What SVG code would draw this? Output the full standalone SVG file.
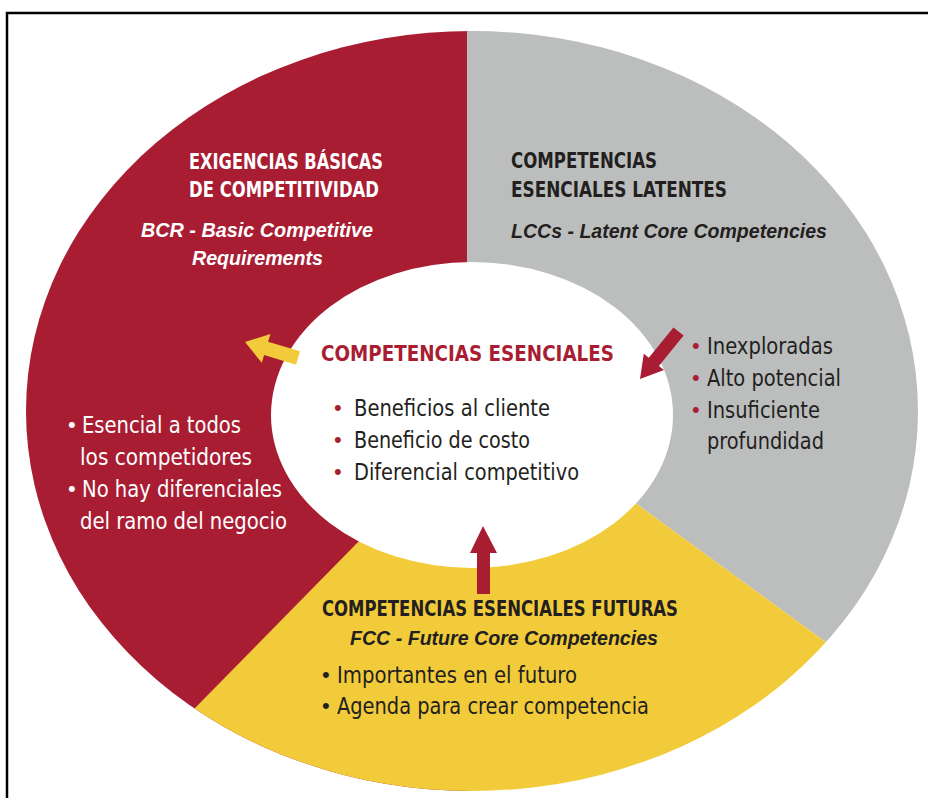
<svg xmlns="http://www.w3.org/2000/svg" width="928" height="798" viewBox="0 0 928 798">
<defs>
<clipPath id="outer"><ellipse cx="472" cy="411" rx="446" ry="380"/></clipPath>
<style>
.h{font-family:"DejaVu Sans Condensed",Roboto,"Liberation Sans",sans-serif;font-weight:bold;font-size:22px}
.i{font-family:"Liberation Sans",Arial,sans-serif;font-weight:bold;font-style:italic;font-size:20.5px}
.b{font-family:"DejaVu Sans Condensed",Roboto,"Liberation Sans",sans-serif;font-size:23px}
.w{fill:#ffffff}
.d{fill:#231f20}
.r{fill:#a91d33}
.dot{font-family:"Liberation Sans",Arial,sans-serif;font-size:22px}
</style>
</defs>
<rect width="928" height="798" fill="#ffffff"/>
<polyline points="7,798 7,13 928,13" fill="none" stroke="#000" stroke-width="2.5"/>
<g id="bcr">
<polygon points="-10,-10 469,-10 469,820 -10,820" fill="#a91d33" clip-path="url(#outer)"/>
<text class="h w" x="189" y="169" textLength="194" lengthAdjust="spacingAndGlyphs">EXIGENCIAS BÁSICAS</text>
<text class="h w" x="189" y="197" textLength="190" lengthAdjust="spacingAndGlyphs">DE COMPETITIVIDAD</text>
<text class="i w" x="141" y="237" textLength="232" lengthAdjust="spacingAndGlyphs">BCR - Basic Competitive</text>
<text class="i w" x="192" y="265" textLength="131" lengthAdjust="spacingAndGlyphs">Requirements</text>
<text class="dot w" x="68" y="432">•</text>
<text class="b w" x="82" y="433" textLength="159" lengthAdjust="spacingAndGlyphs">Esencial a todos</text>
<text class="b w" x="80" y="465" textLength="172" lengthAdjust="spacingAndGlyphs">los competidores</text>
<text class="dot w" x="68" y="496">•</text>
<text class="b w" x="82" y="497" textLength="200" lengthAdjust="spacingAndGlyphs">No hay diferenciales</text>
<text class="b w" x="80" y="529" textLength="207" lengthAdjust="spacingAndGlyphs">del ramo del negocio</text>
</g>
<g id="lcc">
<polygon points="467,-10 960,-10 960,740 527,424 467,424" fill="#bbbebd" clip-path="url(#outer)"/>
<text class="h d" x="511" y="168" textLength="146" lengthAdjust="spacingAndGlyphs">COMPETENCIAS</text>
<text class="h d" x="511" y="197" textLength="216" lengthAdjust="spacingAndGlyphs">ESENCIALES LATENTES</text>
<text class="i d" x="511" y="238" textLength="316" lengthAdjust="spacingAndGlyphs">LCCs - Latent Core Competencies</text>
<text class="dot r" x="692" y="353">•</text>
<text class="b d" x="707" y="354" textLength="126" lengthAdjust="spacingAndGlyphs">Inexploradas</text>
<text class="dot r" x="692" y="385">•</text>
<text class="b d" x="707" y="386" textLength="134" lengthAdjust="spacingAndGlyphs">Alto potencial</text>
<text class="dot r" x="692" y="417">•</text>
<text class="b d" x="707" y="418" textLength="113" lengthAdjust="spacingAndGlyphs">Insuficiente</text>
<text class="b d" x="707" y="449" textLength="117" lengthAdjust="spacingAndGlyphs">profundidad</text>
</g>
<g id="fcc">
<polygon points="418,481 527,424 960,740 960,820 85,820" fill="#f2cb3a" clip-path="url(#outer)"/>
<text class="h d" x="322" y="616" textLength="356" lengthAdjust="spacingAndGlyphs">COMPETENCIAS ESENCIALES FUTURAS</text>
<text class="i d" x="350" y="645" textLength="308" lengthAdjust="spacingAndGlyphs">FCC - Future Core Competencies</text>
<text class="dot d" x="322" y="682">•</text>
<text class="b d" x="337" y="683" textLength="240" lengthAdjust="spacingAndGlyphs">Importantes en el futuro</text>
<text class="dot d" x="322" y="713">•</text>
<text class="b d" x="337" y="714" textLength="312" lengthAdjust="spacingAndGlyphs">Agenda para crear competencia</text>
</g>
<g id="core">
<ellipse cx="472" cy="415" rx="201" ry="153" fill="#ffffff"/>
<text class="h r" x="321" y="361" textLength="293" lengthAdjust="spacingAndGlyphs">COMPETENCIAS ESENCIALES</text>
<text class="dot r" x="334" y="415">•</text>
<text class="b d" x="354" y="416" textLength="196" lengthAdjust="spacingAndGlyphs">Beneficios al cliente</text>
<text class="dot r" x="334" y="447">•</text>
<text class="b d" x="354" y="448" textLength="176" lengthAdjust="spacingAndGlyphs">Beneficio de costo</text>
<text class="dot r" x="334" y="479">•</text>
<text class="b d" x="354" y="480" textLength="225" lengthAdjust="spacingAndGlyphs">Diferencial competitivo</text>
</g>
<g id="connectors">
<polygon points="245,342 270.4,334 268.1,341.7 300,351.3 296,364.7 264.1,355.1 261.8,362.8" fill="#f2cb3a"/>
<polygon points="640,379 664,370.1 658.9,366 683.6,335.6 673.4,327.4 648.8,357.8 643.8,353.7" fill="#a91d33"/>
<polygon points="483,526 497,553 490,553 490,594 477,594 477,553 470,553" fill="#a91d33"/>
</g>
</svg>
